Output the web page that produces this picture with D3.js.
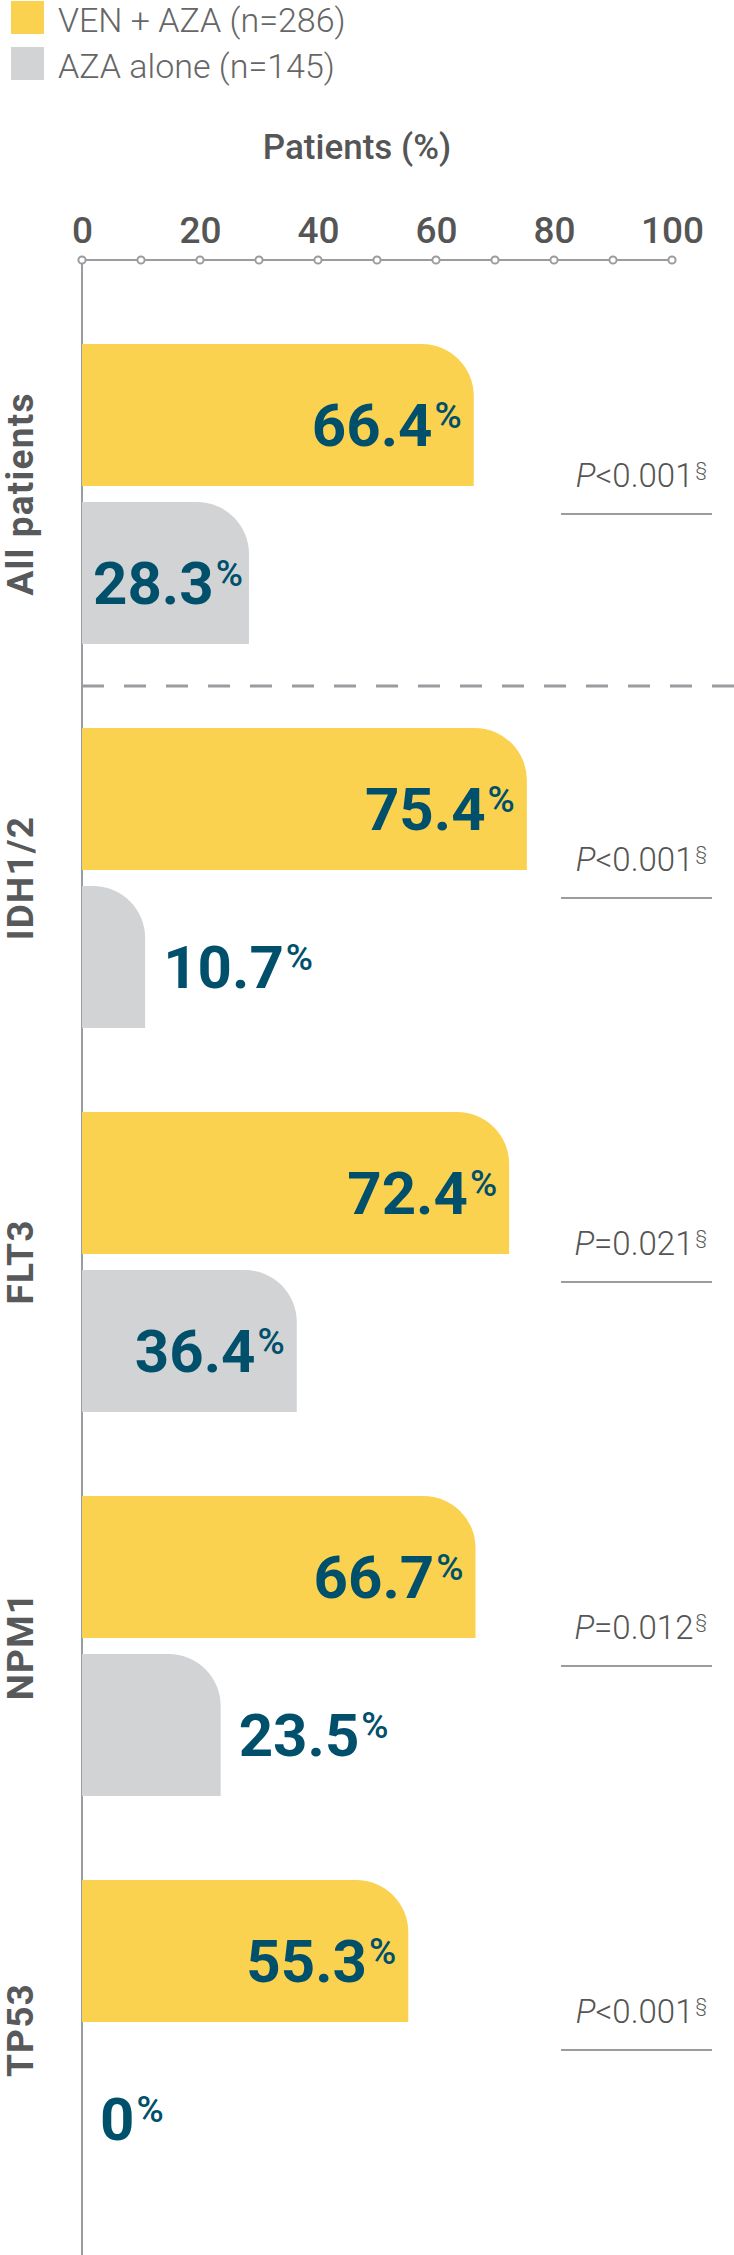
<!DOCTYPE html>
<html>
<head>
<meta charset="utf-8">
<script src="https://cdn.jsdelivr.net/npm/d3@7"></script>
<style>
  body { margin: 0; background: #fff; }
  svg { display: block; font-family: Roboto, "Liberation Sans", sans-serif; }
</style>
</head>
<body>
<svg id="chart" width="734" height="2255"></svg>
<script>
// data
var categories = ["All patients", "IDH1/2", "FLT3", "NPM1", "TP53"];
var series = ["VEN + AZA (n=286)", "AZA alone (n=145)"];
var venAza = [66.4, 75.4, 72.4, 66.7, 55.3];
var azaAlone = [28.3, 10.7, 36.4, 23.5, 0];
var pValues = ["<0.001", "<0.001", "=0.021", "=0.012", "<0.001"];
var majorTicks = [0, 20, 40, 60, 80, 100];
var minorTicks = [0, 10, 20, 30, 40, 50, 60, 70, 80, 90, 100];

var colors = ["#FAD250", "#D1D3D4"];
var teal = "#004F6B", textGrey = "#58595B", axisGrey = "#9A9C9F";

var svg = d3.select("#chart");
var axisY = 260;

var x = d3.scaleLinear().domain([0, 100]).range([82, 672]);

var y = d3.scaleBand()
  .domain(categories)
  .range([344, 344 + 4 * 384 + 300])
  .paddingInner(84 / 384)
  .paddingOuter(0);

var ySub = d3.scaleBand()
  .domain([0, 1])
  .range([0, y.bandwidth()])
  .paddingInner(16 / 158);

// legend
var legend = svg.append("g").attr("class", "legend");
series.forEach(function(s, i) {
  legend.append("rect")
    .attr("x", 11).attr("y", 1 + i * 46)
    .attr("width", 33).attr("height", 33)
    .attr("fill", colors[i]);
  legend.append("text")
    .attr("x", 58).attr("y", 32 + i * 46)
    .attr("font-size", 34).attr("font-weight", 300)
    .attr("fill", "#666")
    .text(s);
});

// axis title
svg.append("text")
  .attr("x", 357).attr("y", 159)
  .attr("text-anchor", "middle")
  .attr("font-size", 35).attr("font-weight", 500)
  .attr("fill", "#555")
  .text("Patients (%)");

// top axis
var xAxis = d3.axisTop(x).tickValues(majorTicks).tickSize(0).tickPadding(17);
var gx = svg.append("g")
  .attr("class", "axis axis--x")
  .attr("transform", "translate(0," + axisY + ")")
  .call(xAxis);
gx.select(".domain").remove();
gx.selectAll("text")
  .attr("font-family", "Roboto, sans-serif")
  .attr("font-size", 37).attr("font-weight", 500)
  .attr("fill", "#555");

svg.append("line")
  .attr("x1", x(0)).attr("x2", x(100))
  .attr("y1", axisY).attr("y2", axisY)
  .attr("stroke", axisGrey).attr("stroke-width", 2);

// vertical baseline
svg.append("line")
  .attr("x1", x(0)).attr("x2", x(0))
  .attr("y1", axisY + 4).attr("y2", 2255)
  .attr("stroke", axisGrey).attr("stroke-width", 2);

svg.selectAll("circle.tick")
  .data(minorTicks)
  .enter().append("circle")
  .attr("class", "tick")
  .attr("cx", function(d) { return x(d); })
  .attr("cy", axisY)
  .attr("r", 3.6)
  .attr("fill", "#fff")
  .attr("stroke", axisGrey)
  .attr("stroke-width", 2);

// dashed separator after "All patients"
var sepY = (y(categories[0]) + y.bandwidth() + y(categories[1])) / 2;
svg.append("line")
  .attr("x1", x(0)).attr("x2", 734)
  .attr("y1", sepY).attr("y2", sepY)
  .attr("stroke", axisGrey).attr("stroke-width", 3)
  .attr("stroke-dasharray", "22,20");

// bar with only the top-right corner rounded
function barPath(x0, y0, w, h, r) {
  r = Math.min(r, w, h);
  if (w <= 0) return "";
  return "M" + x0 + "," + y0 +
    "H" + (x0 + w - r) +
    "A" + r + "," + r + " 0 0 1 " + (x0 + w) + "," + (y0 + r) +
    "V" + (y0 + h) +
    "H" + x0 + "Z";
}

var rows = categories.map(function(c, i) {
  return { cat: c, values: [venAza[i], azaAlone[i]], p: pValues[i] };
});

var groups = svg.selectAll("g.group")
  .data(rows)
  .enter().append("g")
  .attr("class", "group")
  .attr("transform", function(d) { return "translate(0," + y(d.cat) + ")"; });

groups.each(function(d) {
  var g = d3.select(this);
  var mid = y.bandwidth() / 2;

  // category label
  g.append("text")
    .attr("transform", "translate(33," + mid + ") rotate(-90)")
    .attr("text-anchor", "middle")
    .attr("font-size", 37).attr("font-weight", 700)
    .attr("letter-spacing", 1.2)
    .attr("fill", textGrey)
    .text(d.cat);

  d.values.forEach(function(v, i) {
    var top = ySub(i), h = ySub.bandwidth();
    var w = x(v) - x(0);
    g.append("path")
      .attr("d", barPath(x(0), top, w, h, 52))
      .attr("fill", colors[i]);

    var label = g.append("text")
      .attr("y", top + h / 2 + 31)
      .attr("fill", teal)
      .attr("font-size", 60).attr("font-weight", 700);
    label.append("tspan").text(v === 0 ? "0" : v.toFixed(1));
    label.append("tspan")
      .attr("font-size", 37).attr("font-weight", 500)
      .attr("dx", 2).attr("dy", -18)
      .text("%");

    var lw = label.node().getComputedTextLength();
    if (w - lw >= 16) {
      var pad = Math.min(12, w - lw - 13);
      label.attr("x", x(v) - pad).attr("text-anchor", "end");
    } else {
      label.attr("x", x(v) + 18).attr("text-anchor", "start");
    }
  });

  // p value
  var pt = g.append("text")
    .attr("x", 707).attr("y", mid - 7)
    .attr("text-anchor", "end")
    .attr("font-size", 33).attr("font-weight", 300)
    .attr("fill", "#555");
  pt.append("tspan").attr("font-style", "italic").text("P");
  pt.append("tspan").text(d.p);
  pt.append("tspan").attr("font-size", 19).attr("dx", 2).attr("dy", -12).text("§");

  g.append("line")
    .attr("x1", 561).attr("x2", 712)
    .attr("y1", mid + 20).attr("y2", mid + 20)
    .attr("stroke", axisGrey).attr("stroke-width", 2);
});
</script>
</body>
</html>
